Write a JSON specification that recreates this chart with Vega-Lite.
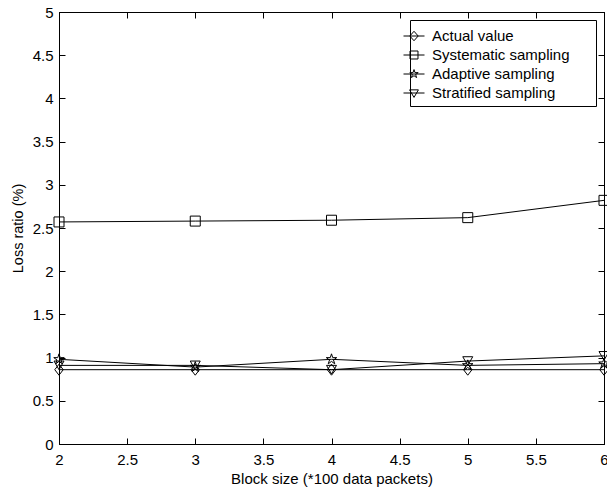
{
  "$schema": "https://vega.github.io/schema/vega-lite/v6.json",
  "width": 545,
  "height": 432,
  "autosize": "none",
  "padding": {"left": 59, "top": 12, "right": 3, "bottom": 48},
  "background": "white",
  "config": {
    "font": "Liberation Sans",
    "view": {"stroke": "black", "strokeWidth": 1},
    "axis": {
      "domainColor": "black", "tickColor": "black", "labelColor": "black", "titleColor": "black",
      "labelFont": "Liberation Sans", "titleFont": "Liberation Sans",
      "labelFontSize": 15, "titleFontSize": 15, "titleFontWeight": "normal",
      "grid": false, "tickSize": -6, "domainWidth": 1, "tickWidth": 1, "labelFlush": false
    }
  },
  "data": {
    "values": [
      {"series": "Actual value", "block": 2, "loss": 0.86},
      {"series": "Actual value", "block": 3, "loss": 0.86},
      {"series": "Actual value", "block": 4, "loss": 0.86},
      {"series": "Actual value", "block": 5, "loss": 0.86},
      {"series": "Actual value", "block": 6, "loss": 0.86},
      {"series": "Systematic sampling", "block": 2, "loss": 2.57},
      {"series": "Systematic sampling", "block": 3, "loss": 2.58},
      {"series": "Systematic sampling", "block": 4, "loss": 2.59},
      {"series": "Systematic sampling", "block": 5, "loss": 2.62},
      {"series": "Systematic sampling", "block": 6, "loss": 2.82},
      {"series": "Adaptive sampling", "block": 2, "loss": 0.98},
      {"series": "Adaptive sampling", "block": 3, "loss": 0.89},
      {"series": "Adaptive sampling", "block": 4, "loss": 0.98},
      {"series": "Adaptive sampling", "block": 5, "loss": 0.91},
      {"series": "Adaptive sampling", "block": 6, "loss": 0.93},
      {"series": "Stratified sampling", "block": 2, "loss": 0.91},
      {"series": "Stratified sampling", "block": 3, "loss": 0.91},
      {"series": "Stratified sampling", "block": 4, "loss": 0.86},
      {"series": "Stratified sampling", "block": 5, "loss": 0.96},
      {"series": "Stratified sampling", "block": 6, "loss": 1.02}
    ]
  },
  "layer": [
    {
      "mark": {"type": "line", "color": "black", "strokeWidth": 1},
      "encoding": {
        "x": {"field": "block", "type": "quantitative",
          "scale": {"domain": [2, 6], "nice": false, "zero": false},
          "axis": {"orient": "bottom", "values": [2, 2.5, 3, 3.5, 4, 4.5, 5, 5.5, 6], "format": "~g",
            "title": "Block size (*100 data packets)", "labelPadding": 14, "titlePadding": 4}},
        "y": {"field": "loss", "type": "quantitative",
          "scale": {"domain": [0, 5], "nice": false, "zero": false},
          "axis": {"orient": "left", "values": [0, 0.5, 1, 1.5, 2, 2.5, 3, 3.5, 4, 4.5, 5], "format": "~g",
            "title": "Loss ratio (%)", "labelPadding": 12, "titlePadding": 7, "titleFontSize": 14.5}},
        "detail": {"field": "series", "type": "nominal"}
      }
    },
    {
      "mark": {"type": "point", "filled": false, "stroke": "black", "strokeWidth": 1, "size": 100, "opacity": 1},
      "encoding": {
        "x": {"field": "block", "type": "quantitative",
          "scale": {"domain": [2, 6], "nice": false, "zero": false},
          "axis": {"orient": "top", "values": [2, 2.5, 3, 3.5, 4, 4.5, 5, 5.5, 6], "labels": false, "title": null}},
        "y": {"field": "loss", "type": "quantitative",
          "scale": {"domain": [0, 5], "nice": false, "zero": false},
          "axis": {"orient": "right", "values": [0, 0.5, 1, 1.5, 2, 2.5, 3, 3.5, 4, 4.5, 5], "labels": false, "title": null}},
        "shape": {"field": "series", "type": "nominal",
          "scale": {"domain": ["Actual value", "Systematic sampling", "Adaptive sampling", "Stratified sampling"],
            "range": ["M0,-1.1L0.85,0L0,1.1L-0.85,0Z", "square", "M0,-1.1L0.245,-0.338L1.046,-0.34L0.397,0.129L0.647,0.89L0,0.418L-0.647,0.89L-0.397,0.129L-1.046,-0.34L-0.245,-0.338Z", "triangle-down"]},
          "legend": null}
      }
    },
    {
      "mark": {"type": "point", "filled": false, "stroke": "black", "strokeWidth": 1, "opacity": 0},
      "encoding": {
        "x": {"field": "block", "type": "quantitative", "scale": {"domain": [2, 6], "nice": false, "zero": false}, "axis": null},
        "y": {"field": "loss", "type": "quantitative", "scale": {"domain": [0, 5], "nice": false, "zero": false}, "axis": null},
        "shape": {"field": "series", "type": "nominal",
          "scale": {"domain": ["Actual value", "Systematic sampling", "Adaptive sampling", "Stratified sampling"],
            "range": [
              "M-1,0L1,0M0,-0.45L0.4,0L0,0.45L-0.4,0Z",
              "M-1,0L1,0M-0.38,-0.38L0.38,-0.38L0.38,0.38L-0.38,0.38Z",
              "M-1,0L1,0M0,-0.42L0.094,-0.129L0.399,-0.13L0.152,0.049L0.247,0.34L0,0.16L-0.247,0.34L-0.152,0.049L-0.399,-0.13L-0.094,-0.129Z",
              "M-1,0L1,0M-0.42,-0.3L0.42,-0.3L0,0.42Z"
            ]},
          "legend": {
            "orient": "top-right", "offset": 8, "padding": 5, "title": null,
            "strokeColor": "black", "fillColor": "white",
            "symbolSize": 441, "symbolStrokeWidth": 1, "symbolStrokeColor": "black", "symbolFillColor": "transparent", "symbolOpacity": 1,
            "rowPadding": -3, "symbolOffset": -12, "labelOffset": 7, "labelLimit": 400,
            "labelFont": "Liberation Sans", "labelFontSize": 15, "labelColor": "black",
            "labelExpr": "datum.label + '\u00a0\u00a0\u00a0\u00a0\u00a0\u200b'"
          }}
      }
    }
  ],
  "resolve": {
    "axis": {"x": "independent", "y": "independent"},
    "scale": {"shape": "independent"},
    "legend": {"shape": "independent"}
  }
}
